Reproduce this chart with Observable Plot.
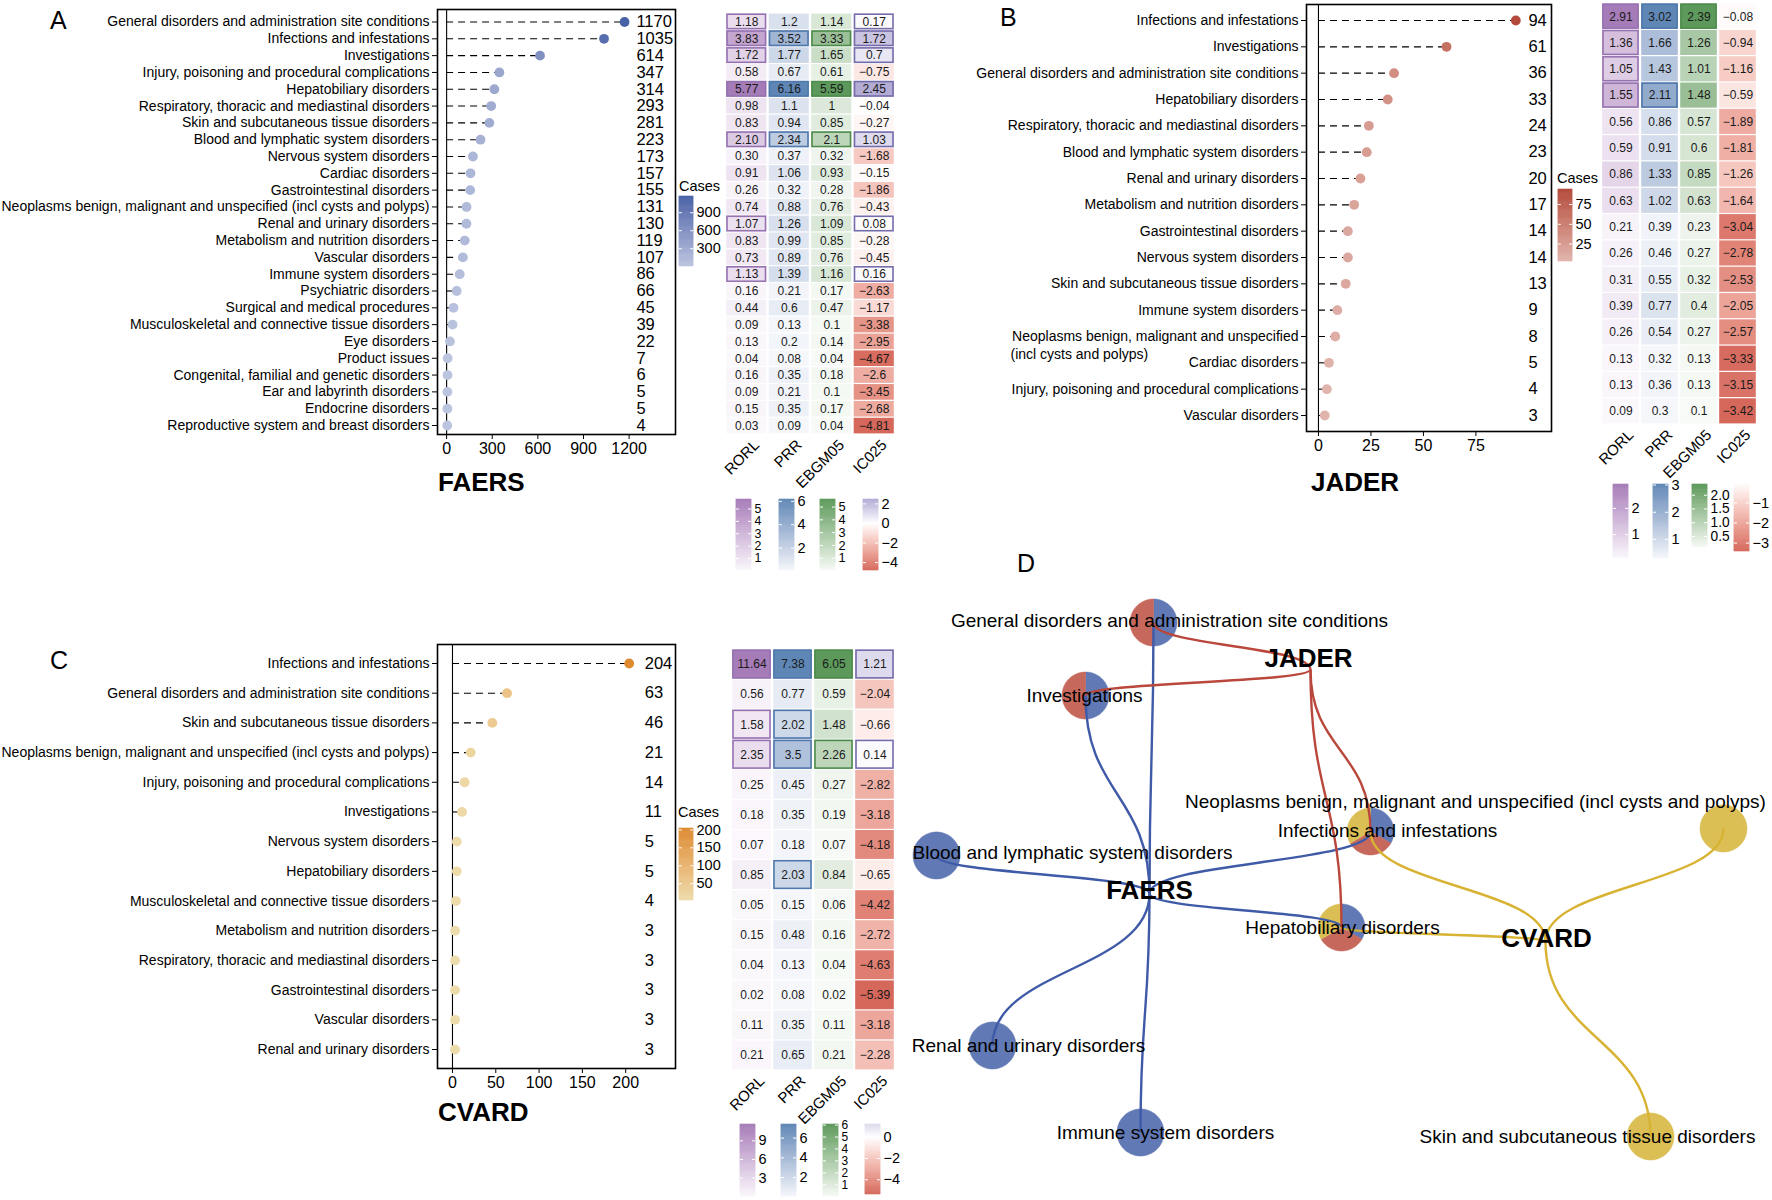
<!DOCTYPE html>
<html><head><meta charset="utf-8">
<script src="https://cdn.jsdelivr.net/npm/d3@7"></script>
<script src="https://cdn.jsdelivr.net/npm/@observablehq/plot@0.6"></script>
<style>
body{margin:0;background:#fff;}
#root{position:relative;width:1772px;height:1200px;overflow:hidden;background:#fff;font-family:"Liberation Sans",Arial,Helvetica,sans-serif;color:#000;}
.abs{position:absolute;line-height:1;white-space:nowrap;}
#root svg{overflow:visible;}
</style></head><body><div id="root"></div>
<script>
// ---------------- DATA ----------------
const metrics = ["RORL", "PRR", "EBGM05", "IC025"];

const faersCats = ["General disorders and administration site conditions","Infections and infestations","Investigations","Injury, poisoning and procedural complications","Hepatobiliary disorders","Respiratory, thoracic and mediastinal disorders","Skin and subcutaneous tissue disorders","Blood and lymphatic system disorders","Nervous system disorders","Cardiac disorders","Gastrointestinal disorders","Neoplasms benign, malignant and unspecified (incl cysts and polyps)","Renal and urinary disorders","Metabolism and nutrition disorders","Vascular disorders","Immune system disorders","Psychiatric disorders","Surgical and medical procedures","Musculoskeletal and connective tissue disorders","Eye disorders","Product issues","Congenital, familial and genetic disorders","Ear and labyrinth disorders","Endocrine disorders","Reproductive system and breast disorders"];
const faersCases = [1170,1035,614,347,314,293,281,223,173,157,155,131,130,119,107,86,66,45,39,22,7,6,5,5,4];
const faersRORL = ["1.18","3.83","1.72","0.58","5.77","0.98","0.83","2.10","0.30","0.91","0.26","0.74","1.07","0.83","0.73","1.13","0.16","0.44","0.09","0.13","0.04","0.16","0.09","0.15","0.03"];
const faersPRR = ["1.2","3.52","1.77","0.67","6.16","1.1","0.94","2.34","0.37","1.06","0.32","0.88","1.26","0.99","0.89","1.39","0.21","0.6","0.13","0.2","0.08","0.35","0.21","0.35","0.09"];
const faersEBGM05 = ["1.14","3.33","1.65","0.61","5.59","1","0.85","2.1","0.32","0.93","0.28","0.76","1.09","0.85","0.76","1.16","0.17","0.47","0.1","0.14","0.04","0.18","0.1","0.17","0.04"];
const faersIC025 = ["0.17","1.72","0.7","-0.75","2.45","-0.04","-0.27","1.03","-1.68","-0.15","-1.86","-0.43","0.08","-0.28","-0.45","0.16","-2.63","-1.17","-3.38","-2.95","-4.67","-2.6","-3.45","-2.68","-4.81"];

const jaderCats = ["Infections and infestations","Investigations","General disorders and administration site conditions","Hepatobiliary disorders","Respiratory, thoracic and mediastinal disorders","Blood and lymphatic system disorders","Renal and urinary disorders","Metabolism and nutrition disorders","Gastrointestinal disorders","Nervous system disorders","Skin and subcutaneous tissue disorders","Immune system disorders","Neoplasms benign, malignant and unspecified (incl cysts and polyps)","Cardiac disorders","Injury, poisoning and procedural complications","Vascular disorders"];
const jaderCases = [94,61,36,33,24,23,20,17,14,14,13,9,8,5,4,3];
const jaderRORL = ["2.91","1.36","1.05","1.55","0.56","0.59","0.86","0.63","0.21","0.26","0.31","0.39","0.26","0.13","0.13","0.09"];
const jaderPRR = ["3.02","1.66","1.43","2.11","0.86","0.91","1.33","1.02","0.39","0.46","0.55","0.77","0.54","0.32","0.36","0.3"];
const jaderEBGM05 = ["2.39","1.26","1.01","1.48","0.57","0.6","0.85","0.63","0.23","0.27","0.32","0.4","0.27","0.13","0.13","0.1"];
const jaderIC025 = ["-0.08","-0.94","-1.16","-0.59","-1.89","-1.81","-1.26","-1.64","-3.04","-2.78","-2.53","-2.05","-2.57","-3.33","-3.15","-3.42"];

const cvardCats = ["Infections and infestations","General disorders and administration site conditions","Skin and subcutaneous tissue disorders","Neoplasms benign, malignant and unspecified (incl cysts and polyps)","Injury, poisoning and procedural complications","Investigations","Nervous system disorders","Hepatobiliary disorders","Musculoskeletal and connective tissue disorders","Metabolism and nutrition disorders","Respiratory, thoracic and mediastinal disorders","Gastrointestinal disorders","Vascular disorders","Renal and urinary disorders"];
const cvardCases = [204,63,46,21,14,11,5,5,4,3,3,3,3,3];
const cvardRORL = ["11.64","0.56","1.58","2.35","0.25","0.18","0.07","0.85","0.05","0.15","0.04","0.02","0.11","0.21"];
const cvardPRR = ["7.38","0.77","2.02","3.5","0.45","0.35","0.18","2.03","0.15","0.48","0.13","0.08","0.35","0.65"];
const cvardEBGM05 = ["6.05","0.59","1.48","2.26","0.27","0.19","0.07","0.84","0.06","0.16","0.04","0.02","0.11","0.21"];
const cvardIC025 = ["1.21","-2.04","-0.66","0.14","-2.82","-3.18","-4.18","-0.65","-4.42","-2.72","-4.63","-5.39","-3.18","-2.28"];

// axis / legend tick labels
const faersTicks = [0, 300, 600, 900, 1200];
const jaderTicks = [0, 25, 50, 75];
const cvardTicks = [0, 50, 100, 150, 200];
const faersCaseTicks = [300, 600, 900];
const jaderCaseTicks = [25, 50, 75];
const cvardCaseTicks = [50, 100, 150, 200];
const faersLegendTicks = {RORL:[1,2,3,4,5], PRR:[2,4,6], EBGM05:[1,2,3,4,5], IC025:[-4,-2,0,2]};
const jaderLegendTicks = {RORL:[1,2], PRR:[1,2,3], EBGM05:[0.5,1,1.5,2], IC025:[-3,-2,-1]};
const cvardLegendTicks = {RORL:[3,6,9], PRR:[2,4,6], EBGM05:[1,2,3,4,5,6], IC025:[-4,-2,0]};

// network (panel D)
const networkDatabases = ["FAERS", "JADER", "CVARD"];
const networkSocs = ["General disorders and administration site conditions","Investigations","Infections and infestations","Neoplasms benign, malignant and unspecified (incl cysts and polyps)","Blood and lymphatic system disorders","Hepatobiliary disorders","Renal and urinary disorders","Immune system disorders","Skin and subcutaneous tissue disorders"];
const networkMembership = [["FAERS","JADER"],["FAERS","JADER"],["FAERS","JADER","CVARD"],["CVARD"],["FAERS"],["FAERS","JADER","CVARD"],["FAERS"],["FAERS"],["CVARD"]];

// ---------------- LAYOUT & STYLE ----------------
const networkLayout = {
  hubs: {FAERS:[249,353], JADER:[410,129], CVARD:[645,401]},
  hubLabels: {FAERS:[249,350], JADER:[408,118], CVARD:[646,398]},
  nodes: [[253,82],[185,155],[470,291],[823,288],[36,315],[441,387],[92,505],[240,592],[750,596]],
  labels: [[269,80],[184,155],[487,290],[575,261],[172,312],[442,387],[128,505],[265,592],[687,596]]
};
const nodeColor = {FAERS:"#6179b5", JADER:"#c6685b", CVARD:"#dbbf55"};
const edgeColor = {FAERS:"#3f5aa7", JADER:"#b9473b", CVARD:"#d8b232"};
const heatLow = {RORL:"#fbf8fc", PRR:"#f5f7fb", EBGM05:"#f7faf6"};
const heatHigh = {RORL:"#a67cb8", PRR:"#5f87b6", EBGM05:"#5c995a"};
const icLow = "#d5675b", icHigh = "#6a62ad";
const borderColor = {RORL:"#9672b2", PRR:"#4f78ad", EBGM05:"#4e8c4b", IC025:"#756cab"};
const signal = {RORL:v=>v>1, PRR:v=>v>=2, EBGM05:v=>v>2, IC025:v=>v>0};

const fam = '"Liberation Sans", Arial, Helvetica, sans-serif';
const baseStyle = {fontFamily: fam, fontSize: "14px", color: "#000", background: "transparent", overflow: "visible"};
const root = document.getElementById("root");
function place(el, left, top){ el.style.position="absolute"; el.style.left=left+"px"; el.style.top=top+"px"; root.appendChild(el); return el; }
function label(text, left, top, size, weight){ const d=document.createElement("div"); d.className="abs"; d.textContent=text; d.style.fontSize=size+"px"; if(weight) d.style.fontWeight=weight; place(d,left,top); }
const minus = s => String(s).replace("-", "\u2212");

function seqScale(vals, lo, hi){ return d3.scaleLinear().domain(d3.extent(vals)).range([lo,hi]).interpolate(d3.interpolateLab); }
function divScale(vals){ const m = d3.max(vals, v=>Math.abs(v)); return d3.scaleLinear().domain([-m,0,m]).range([icLow,"#ffffff",icHigh]).interpolate(d3.interpolateLab).clamp(true); }

const NEO = "Neoplasms benign, malignant and unspecified (incl cysts and polyps)";

function lollipop(c){
  const data = c.cats.map((cat,i)=>({cat, v:c.cases[i]}));
  const marks = [
    Plot.frame({stroke:"#000", strokeWidth:1.6}),
    Plot.ruleX([0], {stroke:"#000", strokeWidth:1.1}),
    Plot.ruleY(data, {y:"cat", x1:0, x2:"v", stroke:"#000", strokeWidth:1.1, strokeDasharray:"7,5"}),
    Plot.dot(data, {y:"cat", x:"v", r:4.9, fill:"v"}),
    Plot.text(data, {y:"cat", x:c.countX, text:d=>String(d.v), textAnchor:"start", fontSize:16.5}),
    Plot.axisY({tickSize:5, tickPadding:3, fontSize:14, label:null,
      tickFormat: c.wrapNeo ? (d => d === NEO ? "Neoplasms benign, malignant and unspecified" : d) : (d => d)}),
    Plot.axisX({ticks:c.ticks, tickSize:5, tickPadding:3, fontSize:16, label:null, tickFormat:d=>String(d)})
  ];
  if (c.wrapNeo) marks.push(Plot.text([NEO], {y:d=>d, frameAnchor:"left", textAnchor:"start", dx:c.wrapDx, dy:18, text:()=>"(incl cysts and polyps)", fontSize:14}));
  const el = Plot.plot({
    width:c.width, height:c.height, marginLeft:c.mL, marginRight:c.mR, marginTop:c.mT, marginBottom:c.mB,
    style: baseStyle,
    x:{domain:c.xDomain},
    y:{type:"point", domain:c.cats, range:c.rowRange, padding:0, round:false},
    color:{type:"linear", domain:d3.extent(c.cases), range:c.colors, interpolate:"lab"},
    marks
  });
  place(el, c.left, c.top);
}

function colorbar(c){
  const [d0,d1] = c.domain, n = 80;
  const steps = d3.range(n).map(i=>({a:d0+(d1-d0)*i/n, b:d0+(d1-d0)*(i+1)/n}));
  // label size limited by the pixel spacing between consecutive ticks
  const spacing = c.ticks.length > 1 ? c.h * Math.abs(c.ticks[1]-c.ticks[0]) / (d1-d0) : 99;
  const fs = Math.min(14.5, spacing);
  const el = Plot.plot({
    width:c.w+45, height:c.h+20, marginTop:10, marginBottom:10, marginLeft:0, marginRight:45,
    style: baseStyle,
    x:{domain:[0,1], axis:null}, y:{domain:[d0,d1]}, color:{type:"identity"},
    marks:[
      Plot.rect(steps, {x1:0, x2:1, y1:"a", y2:"b", fill:d=>c.fn((d.a+d.b)/2), stroke:d=>c.fn((d.a+d.b)/2), strokeWidth:0.6}),
      Plot.ruleY(c.ticks, {x1:0, x2:0.2, stroke:"white", strokeWidth:1}),
      Plot.ruleY(c.ticks, {x1:0.8, x2:1, stroke:"white", strokeWidth:1}),
      Plot.axisY({anchor:"right", ticks:c.ticks, tickSize:0, tickPadding:3, fontSize:fs, label:null, tickFormat:c.fmt || (d => minus(d))})
    ]
  });
  place(el, c.left, c.top-10);
}

function heatmap(c){
  const vals = {RORL:c.RORL, PRR:c.PRR, EBGM05:c.EBGM05, IC025:c.IC025};
  const scales = {
    RORL: seqScale(c.RORL.map(Number), heatLow.RORL, heatHigh.RORL),
    PRR: seqScale(c.PRR.map(Number), heatLow.PRR, heatHigh.PRR),
    EBGM05: seqScale(c.EBGM05.map(Number), heatLow.EBGM05, heatHigh.EBGM05),
    IC025: divScale(c.IC025.map(Number))
  };
  const rows = [];
  metrics.forEach(m => c.cats.forEach((cat,i) => { const s = vals[m][i], v = +s; rows.push({m, cat, s, v, fill:scales[m](v), sig:signal[m](v)}); }));
  const el = Plot.plot({
    width:c.width, height:c.height, marginLeft:c.mL, marginRight:c.mR, marginTop:c.mT, marginBottom:c.mB,
    style: baseStyle,
    x:{type:"band", domain:metrics, padding:0, round:false},
    y:{type:"band", domain:c.cats, padding:0, axis:null, round:false},
    color:{type:"identity"},
    marks:[
      Plot.cell(rows, {x:"m", y:"cat", fill:"fill", insetLeft:1.2, insetRight:1.2, insetTop:0.6, insetBottom:0.6}),
      Plot.cell(rows.filter(d=>d.sig), {x:"m", y:"cat", fill:"none", stroke:d=>borderColor[d.m], strokeWidth:1.6, insetLeft:2, insetRight:2, insetTop:1.2, insetBottom:1.2}),
      Plot.text(rows, {x:"m", y:"cat", text:d=>minus(d.s), fontSize:12, fill:"#1a1a1a"}),
      Plot.axisX({anchor:"bottom", tickSize:0, tickRotate:-45, tickPadding:6, dx:10, dy:2, fontSize:15, label:null})
    ]
  });
  place(el, c.left, c.top);
  metrics.forEach((m,k) => {
    const v = vals[m].map(Number);
    colorbar({left:c.legLeft[k], top:c.legTop, w:15, h:c.legH[k], domain:d3.extent(v), fn:scales[m], ticks:c.legTicks[m], fmt:c.legFmt && c.legFmt[m]});
  });
}

// ---------------- PANEL A ----------------
lollipop({cats:faersCats, cases:faersCases, ticks:faersTicks, xDomain:[-60,1505], countX:1248, rowRange:[21.5,425],
  colors:["#bcc5df","#4862a6"], left:0, top:0, width:690, height:470, mL:437, mR:15, mT:9, mB:36});
colorbar({left:679, top:196, w:14, h:70, domain:d3.extent(faersCases), fn:seqScale(faersCases,"#bcc5df","#4862a6"), ticks:faersCaseTicks});
label("Cases", 679, 179, 14.5);
heatmap({cats:faersCats, RORL:faersRORL, PRR:faersPRR, EBGM05:faersEBGM05, IC025:faersIC025,
  left:700, top:0, width:200, height:492, mL:25, mR:5, mT:13, mB:58,
  legLeft:[736,779,820,863], legTop:499, legH:[71,71,71,71], legTicks:faersLegendTicks});
label("A", 50, 8, 25);
label("FAERS", 438, 469, 26, "bold");

// ---------------- PANEL B ----------------
lollipop({cats:jaderCats, cases:jaderCases, ticks:jaderTicks, xDomain:[-5.7,111], countX:100, rowRange:[20,415],
  colors:["#e0b4ad","#b2493b"], left:990, top:0, width:575, height:460, mL:316, mR:14, mT:4, mB:29, wrapNeo:true, wrapDx:-296});
colorbar({left:1558, top:189, w:14, h:72, domain:d3.extent(jaderCases), fn:seqScale(jaderCases,"#e0b4ad","#b2493b"), ticks:jaderCaseTicks});
label("Cases", 1557, 171, 14.5);
heatmap({cats:jaderCats, RORL:jaderRORL, PRR:jaderPRR, EBGM05:jaderEBGM05, IC025:jaderIC025,
  left:1570, top:0, width:202, height:482, mL:31, mR:15, mT:3, mB:58,
  legLeft:[1613,1653,1692,1734], legTop:484, legH:[74,74,63,67], legTicks:jaderLegendTicks,
  legFmt:{EBGM05:d3.format(".1f")}});
label("B", 1000, 5, 25);
label("JADER", 1311, 469, 26, "bold");

// ---------------- PANEL C ----------------
lollipop({cats:cvardCats, cases:cvardCases, ticks:cvardTicks, xDomain:[-17.3,257.5], countX:222, rowRange:[103,489],
  colors:["#eddcab","#dd8a30"], left:0, top:560, width:690, height:540, mL:437, mR:15, mT:84, mB:32});
colorbar({left:679, top:828, w:14, h:72, domain:d3.extent(cvardCases), fn:seqScale(cvardCases,"#eddcab","#dd8a30"), ticks:cvardCaseTicks});
label("Cases", 678, 805, 14.5);
heatmap({cats:cvardCats, RORL:cvardRORL, PRR:cvardPRR, EBGM05:cvardEBGM05, IC025:cvardIC025,
  left:700, top:560, width:200, height:560, mL:31, mR:5, mT:89, mB:50,
  legLeft:[740,781,823,865], legTop:1124, legH:[72,72,72,70], legTicks:cvardLegendTicks});
label("C", 50, 648, 25);
label("CVARD", 438, 1099, 26, "bold");

// ---------------- PANEL D ----------------
(function(){
  const L = networkLayout;
  const hubs = networkDatabases.map(db => ({db, x:L.hubLabels[db][0], y:L.hubLabels[db][1]}));
  const nodes = networkSocs.map((s,i) => ({s, x:L.nodes[i][0], y:L.nodes[i][1], lx:L.labels[i][0], ly:L.labels[i][1], dbs:networkMembership[i]}));
  const edges = nodes.flatMap(n => n.dbs.map(db => ({db, x1:L.hubs[db][0], y1:L.hubs[db][1], x2:n.x, y2:n.y})));
  const R = 23.5, N = 72, pts = [];
  nodes.forEach((n,i) => {
    const k = n.dbs.length;
    n.dbs.forEach((db,j) => {
      const id = i + "-" + j, a0 = 2*Math.PI*j/k, a1 = 2*Math.PI*(j+1)/k;
      if (k > 1) pts.push({id, db, x:n.x, y:n.y});
      for (let t = 0; t <= N; t++) { const a = a0 + (a1-a0)*t/N; pts.push({id, db, x:n.x + R*Math.sin(a), y:n.y - R*Math.cos(a)}); }
      if (k > 1) pts.push({id, db, x:n.x, y:n.y});
    });
  });
  const el = Plot.plot({
    width:872, height:660, margin:0, style:baseStyle,
    x:{domain:[0,872], range:[0,872], axis:null},
    y:{domain:[0,660], range:[0,660], axis:null},
    color:{type:"identity"},
    marks:[
      ...networkDatabases.map(db => Plot.line(pts.filter(p => p.db === db), {x:"x", y:"y", z:"id", fill:nodeColor[db], stroke:nodeColor[db], strokeWidth:0.5})),
      Plot.link(edges, {x1:"x1", y1:"y1", x2:"x2", y2:"y2", stroke:d => edgeColor[d.db], strokeWidth:2.4, curve:"bump-y"}),
      Plot.text(nodes, {x:"lx", y:"ly", text:"s", fontSize:19, fill:"#000"}),
      Plot.text(hubs, {x:"x", y:"y", text:"db", fontSize:26, fontWeight:"bold", fill:"#000"})
    ]
  });
  place(el, 900, 540);
  label("D", 1017, 551, 25);
})();
</script></body></html>
